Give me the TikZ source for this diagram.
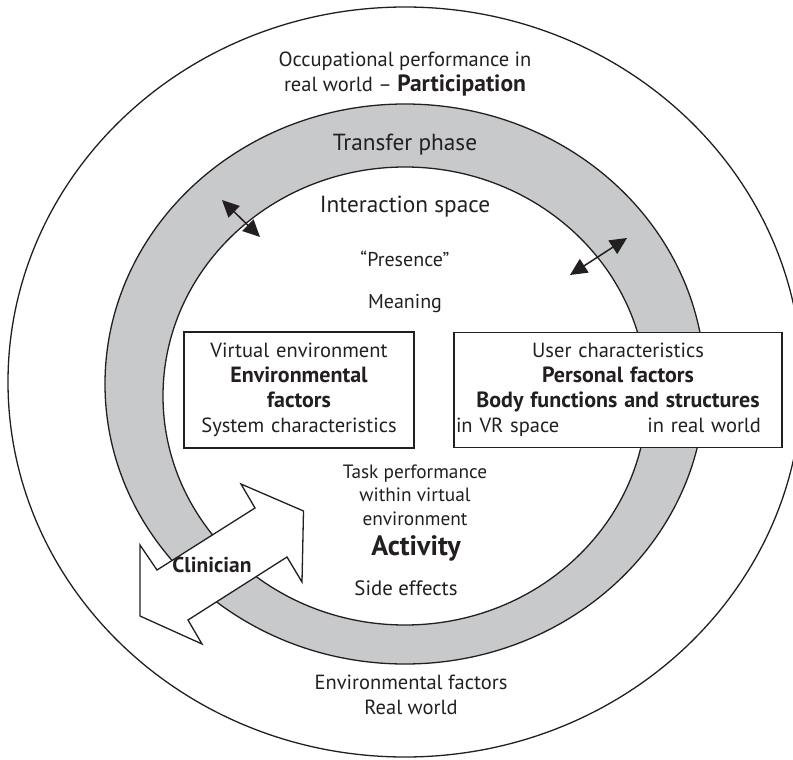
\documentclass[tikz,border=0pt]{standalone}
\usepackage{fontspec}
\setmainfont{PT Sans}
\usetikzlibrary{arrows.meta,positioning}
\definecolor{ringgrey}{RGB}{200,201,203}
\definecolor{ink}{RGB}{35,31,32}
\newcommand{\heavy}[2][22]{{\fontsize{#1}{25}\selectfont\bfseries #2}}

\tikzset{
  plaintext/.style={text=ink, align=center, inner sep=0pt, font=\fontsize{20.5}{25}\selectfont},
  bigtext/.style={plaintext, font=\fontsize{23.3}{26}\selectfont},
  infobox/.style={draw=ink, line width=1.4pt, fill=white, text=ink, align=center,
    inner sep=2pt, font=\fontsize{20.5}{25}\selectfont},
  dblarrow/.style={{Triangle[length=17pt,width=16pt]}-{Triangle[length=17pt,width=16pt]},
    draw=ink, line width=1.5pt}
}

\begin{document}
\begin{tikzpicture}[x=1pt, y=-1pt]
  \useasboundingbox (0,0) rectangle (793,760);
  \clip (0,0) rectangle (793,760);

  % circles
  \draw[ink, line width=1.3pt] (405,382) ellipse [x radius=397, y radius=375];
  \fill[ringgrey, even odd rule] (405,384) ellipse [x radius=300, y radius=280]
    (405,396) ellipse [x radius=242, y radius=229];
  \draw[ink, line width=1.3pt] (405,384) ellipse [x radius=300, y radius=280];
  \draw[ink, line width=1.3pt] (405,396) ellipse [x radius=242, y radius=229];

  % boxes
  \node[infobox, text width=226pt, minimum height=116pt] (virtual) at (299,390)
    {Virtual environment\\ \heavy{Environmental}\\ \heavy{factors}\\ System characteristics};
  \node[infobox, text width=324pt, minimum height=115pt] (user) at (618,390)
    {User characteristics\\ \heavy{Personal factors}\\ \heavy{Body functions and structures}\\
     \makebox[\linewidth]{in VR space\hfill in real world\hspace*{19pt}}};

  % transfer arrows
  \coordinate (t1a) at (222,200);
  \coordinate (t1b) at (260,237);
  \coordinate (t2a) at (627,238);
  \coordinate (t2b) at (570,275);
  \draw[dblarrow] (t1a) -- (t1b);
  \draw[dblarrow] (t2a) -- (t2b);

  % clinician arrow
  \filldraw[fill=white, draw=ink, line width=1.3pt, line join=miter]
    (241,484) -- (303.5,511) -- (302,582) -- (287,557) -- (188,620) -- (202,644)
    -- (140,616) -- (140,545) -- (157,570) -- (255,508) -- cycle;
  \node[plaintext, font=\fontsize{21.5}{25}\bfseries] (clinician) at (212,565) {Clinician};

  % texts
  \node[plaintext] (occupation) at (405,74)
    {Occupational performance in\\ real world -- \heavy[23.5]{Participation}};
  \node[bigtext] (transfer) at (405,145) {Transfer phase};
  \node[bigtext] (interaction) at (405,207) {Interaction space};
  \node[plaintext, font=\fontsize{20}{24}\selectfont] (presence) at (405,259) {“Presence”};
  \node[plaintext, font=\fontsize{20}{24}\selectfont] (meaning) at (405,304) {Meaning};
  \node[plaintext, font=\fontsize{19.3}{23.5}\selectfont] (task) at (415,495)
    {Task performance\\ within virtual\\ environment};
  \node[plaintext, font=\fontsize{28}{30}\bfseries] (activity) at (416,548) {Activity};
  \node[plaintext, font=\fontsize{20.8}{25}\selectfont] (side) at (406,588) {Side effects};
  \node[plaintext] (realworld) at (411,695) {Environmental factors\\ Real world};

\end{tikzpicture}
\end{document}
